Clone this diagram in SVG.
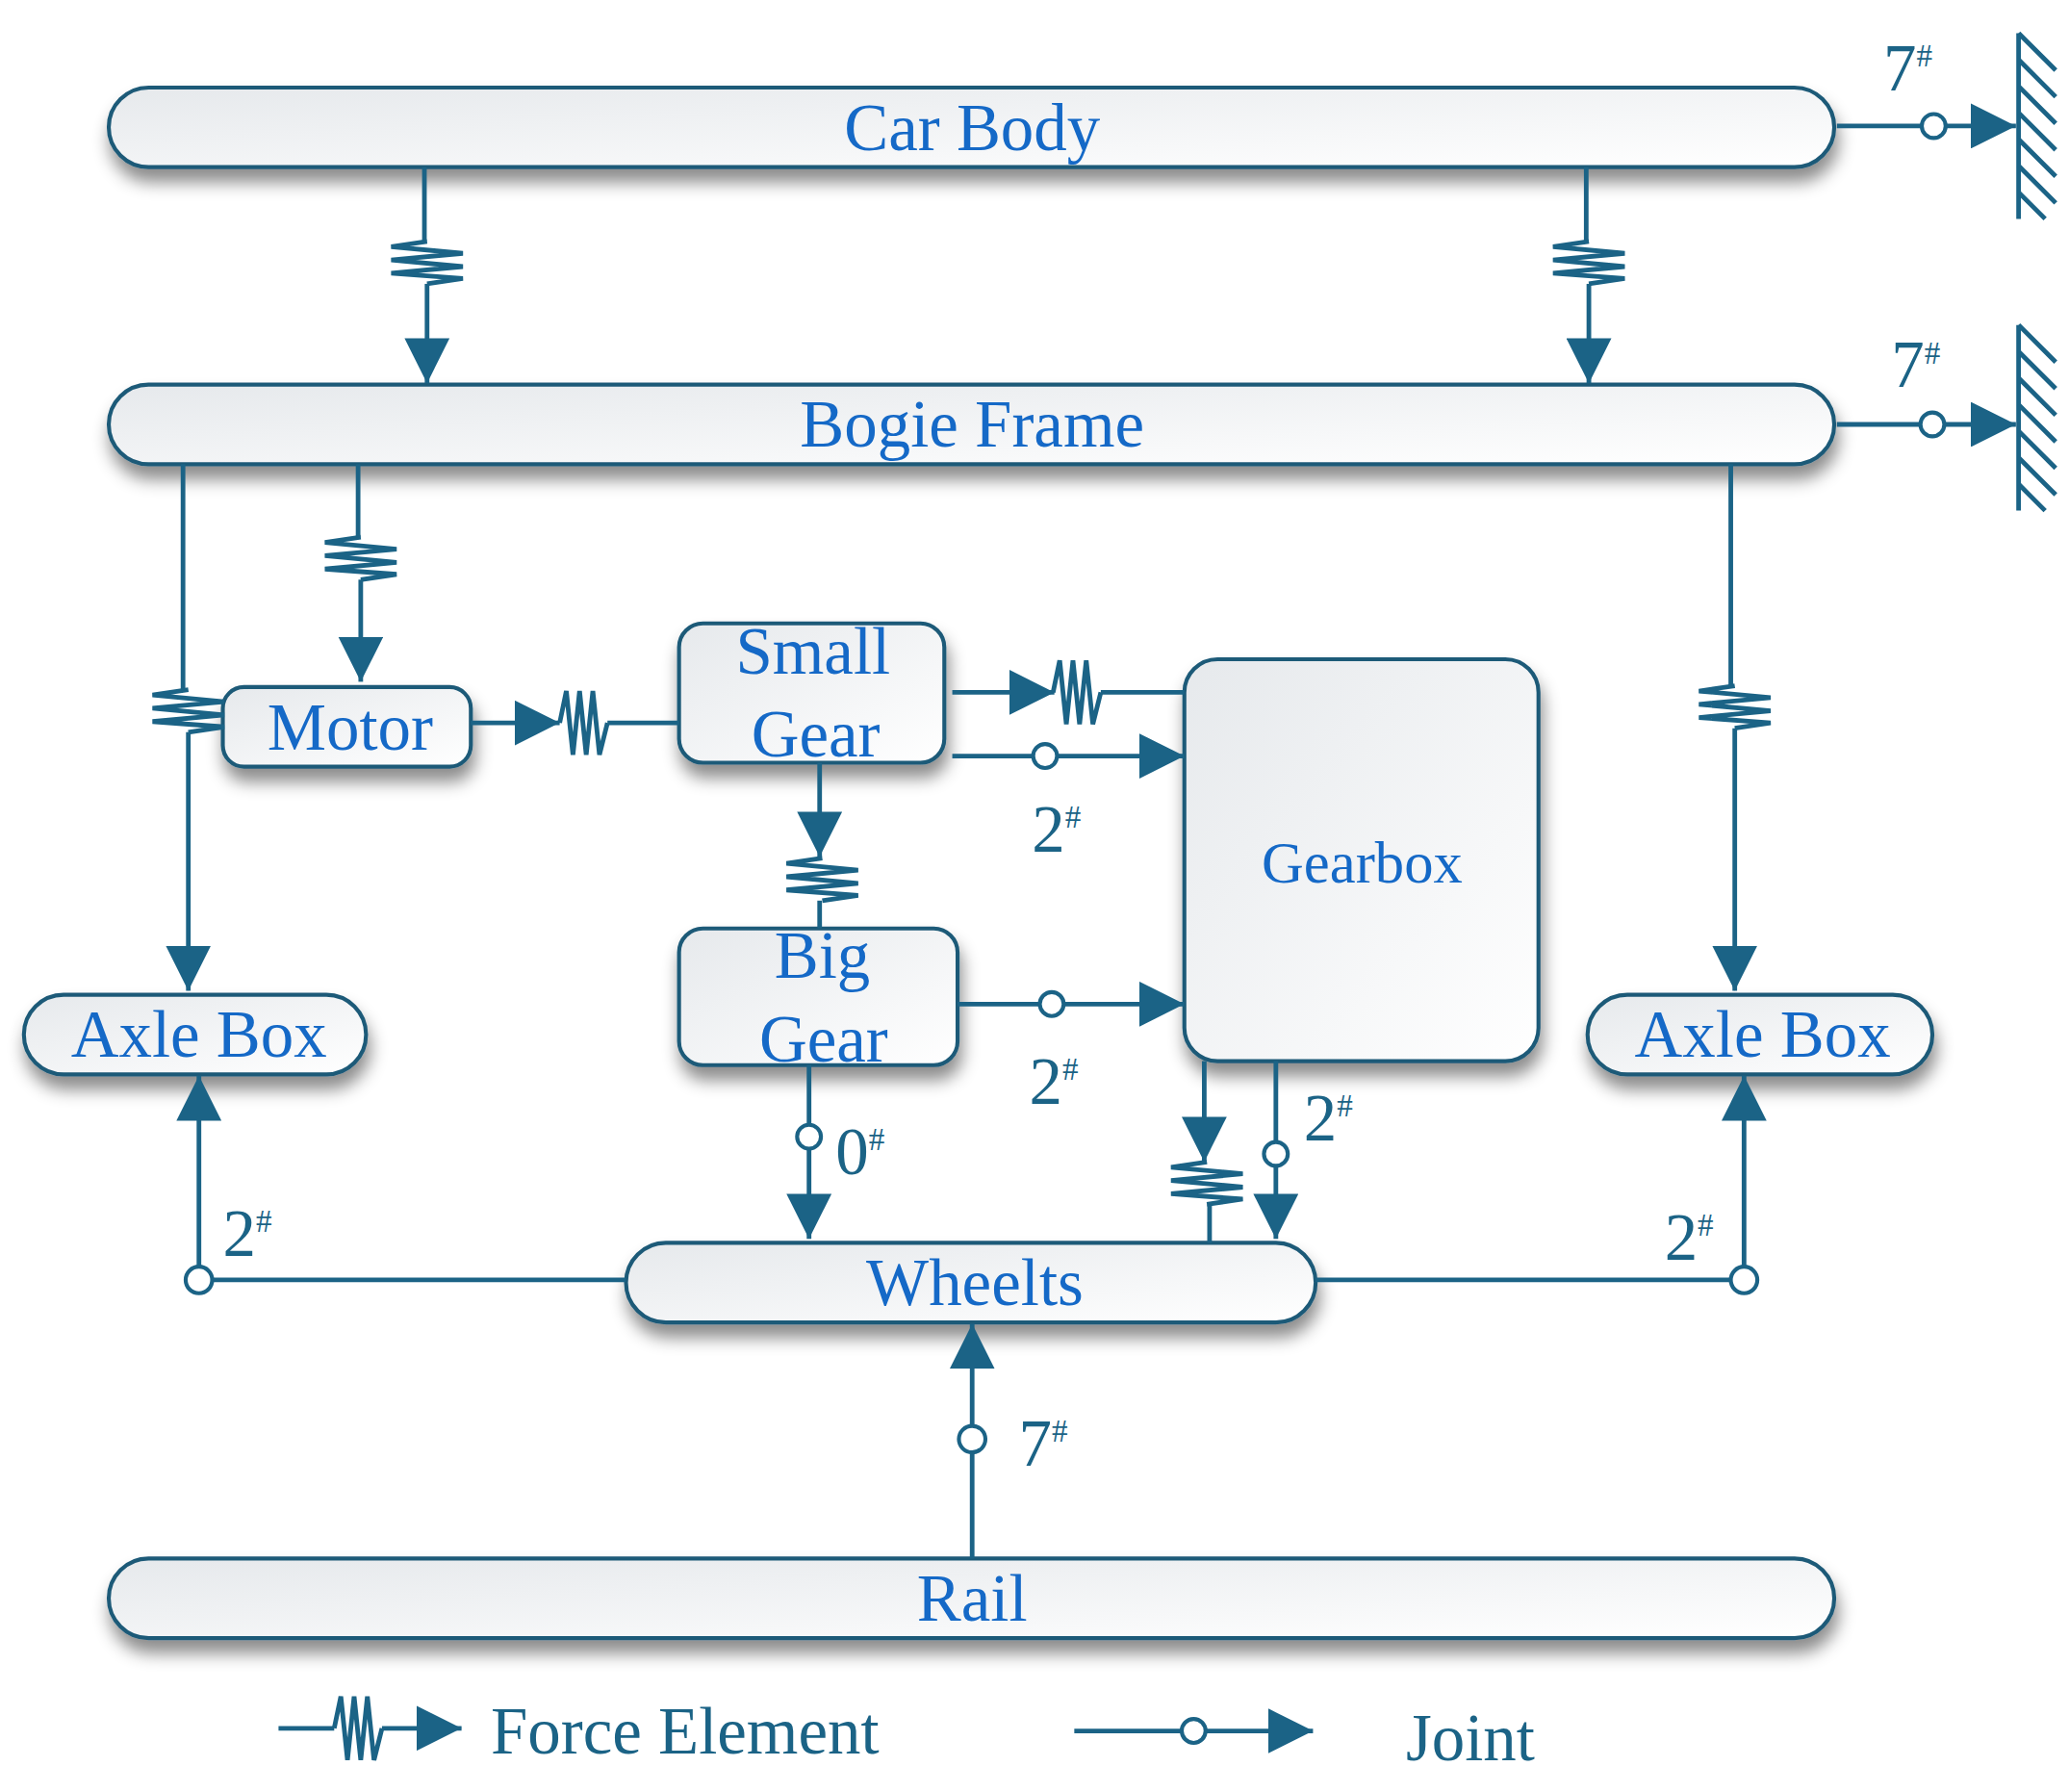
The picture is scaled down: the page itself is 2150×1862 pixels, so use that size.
<svg xmlns="http://www.w3.org/2000/svg" width="2150" height="1862" viewBox="0 0 2150 1862">
<defs>
<linearGradient id="g" x1="0" y1="0" x2="1" y2="1"><stop offset="0" stop-color="#e6e9ec"/><stop offset="1" stop-color="#ffffff"/></linearGradient>
<filter id="sh" x="-10%" y="-30%" width="120%" height="180%"><feDropShadow dx="2" dy="10" stdDeviation="6" flood-color="#000" flood-opacity="0.45"/></filter>
<marker id="ar" viewBox="0 0 10 10" refX="10" refY="5" markerWidth="34" markerHeight="34" markerUnits="userSpaceOnUse" orient="auto"><path d="M0,0 L10,5 L0,10 z" fill="#1b6386"/></marker>
<path id="sv" d="M0,-16 L-27,-12 L27,-7 L-27,-2 L27,3 L-27,8 L27,12 L0,16"/>
<path id="sh2" d="M-18,0 L-13,-24 L-8,24 L-3,-24 L2,24 L7,-24 L12,24 L18,0"/>
</defs>
<style>
.n rect{fill:url(#g);stroke:#1f5a78;stroke-width:3;filter:url(#sh)}
.n text{font-family:"Liberation Serif",serif;fill:#1569c7;text-anchor:middle}
.c path,.c line,.c use{fill:none;stroke:#1b6386;stroke-width:3.5}
.c circle{fill:#fff;stroke:#1b6386;stroke-width:3}
.a{marker-end:url(#ar)}
.l{font-family:"Liberation Serif",serif;fill:#1b6386;font-size:50px}
.l tspan{font-size:24px}
</style>
<g transform="scale(1.3782)">
<g id="carbody" class="n"><rect x="82" y="66" width="1301" height="60" rx="30"/><text x="733" y="113" font-size="50">Car Body</text></g>
<g id="bogie" class="n"><rect x="82" y="290" width="1301" height="60" rx="30"/><text x="733" y="337" font-size="50">Bogie Frame</text></g>
<g id="motor" class="n"><rect x="168" y="518" width="187" height="60" rx="16"/><text x="264" y="565" font-size="50">Motor</text></g>
<g id="smallgear" class="n"><rect x="512" y="470" width="200" height="105" rx="18"/><text x="613" y="508" font-size="50">Small</text><text x="615" y="570" font-size="50">Gear</text></g>
<g id="biggear" class="n"><rect x="512" y="700" width="210" height="103" rx="18"/><text x="620" y="737" font-size="50">Big</text><text x="621" y="800" font-size="50">Gear</text></g>
<g id="gearbox" class="n"><rect x="893" y="497" width="267" height="303" rx="25"/><text x="1027" y="665" font-size="44">Gearbox</text></g>
<g id="axleL" class="n"><rect x="18" y="750" width="258" height="60" rx="30"/><text x="150" y="797" font-size="50">Axle Box</text></g>
<g id="axleR" class="n"><rect x="1197" y="750" width="260" height="60" rx="30"/><text x="1329" y="797" font-size="50">Axle Box</text></g>
<g id="wheels" class="n"><rect x="472" y="937" width="520" height="60" rx="30"/><text x="735" y="984" font-size="50">Wheelts</text></g>
<g id="rail" class="n"><rect x="82" y="1175" width="1301" height="60" rx="30"/><text x="733" y="1222" font-size="50">Rail</text></g>
<g id="connectors" class="c">
<line x1="1385" y1="95" x2="1520" y2="95" class="a"/><circle cx="1458" cy="95" r="9"/>
<line x1="1522" y1="25" x2="1522" y2="165"/>
<path d="M1522,25 l28,28 M1522,45 l28,28 M1522,65 l28,28 M1522,85 l28,28 M1522,105 l28,28 M1522,125 l28,28 M1522,145 l20,20"/>
<line x1="1385" y1="320" x2="1520" y2="320" class="a"/><circle cx="1457" cy="320" r="9"/>
<line x1="1522" y1="245" x2="1522" y2="385"/>
<path d="M1522,245 l28,28 M1522,265 l28,28 M1522,285 l28,28 M1522,305 l28,28 M1522,325 l28,28 M1522,345 l28,28 M1522,365 l20,20"/>
<path d="M320,126 V182"/><use href="#sv" x="322" y="198"/><path class="a" d="M322,214 V289"/>
<path d="M1196,126 V182"/><use href="#sv" x="1198" y="198"/><path class="a" d="M1198,214 V289"/>
<path d="M270,350 V405"/><use href="#sv" x="272" y="421"/><path class="a" d="M272,437 V514"/>
<path d="M138,350 V520"/><use href="#sv" x="142" y="536"/><path class="a" d="M142,552 V747"/>
<path d="M1305,350 V517"/><use href="#sv" x="1308" y="533"/><path class="a" d="M1308,549 V747"/>
<path class="a" d="M355,545 H422"/><use href="#sh2" x="440" y="545"/><path d="M458,545 H512"/>
<path class="a" d="M718,522 H795"/><use href="#sh2" x="812" y="522"/><path d="M830,522 H893"/>
<path class="a" d="M718,570 H893"/><circle cx="788" cy="570" r="9"/>
<path class="a" d="M618,575 V646"/><use href="#sv" x="620" y="663"/><path d="M618,679 V700"/>
<path class="a" d="M722,757 H893"/><circle cx="793" cy="757" r="9"/>
<path class="a" d="M610,803 V934"/><circle cx="610" cy="857" r="9"/>
<path class="a" d="M908,800 V876"/><use href="#sv" x="910" y="892"/><path d="M912,908 V937"/>
<path class="a" d="M962,800 V934"/><circle cx="962" cy="870" r="9"/>
<path class="a" d="M472,965 H150 V811"/><circle cx="150" cy="965" r="10"/>
<path class="a" d="M992,965 H1315 V811"/><circle cx="1315" cy="965" r="10"/>
<path class="a" d="M733,1175 V998"/><circle cx="733" cy="1085" r="10"/>
<path d="M210,1303 H252"/><use href="#sh2" x="270" y="1303"/><path class="a" d="M288,1303 H348"/>
<path class="a" d="M810,1305 H990"/><circle cx="900" cy="1305" r="9"/>
</g>
<g id="labels">
<text class="l" x="1420" y="68">7<tspan dy="-18">#</tspan></text>
<text class="l" x="1426" y="292">7<tspan dy="-18">#</tspan></text>
<text class="l" x="778" y="642">2<tspan dy="-18">#</tspan></text>
<text class="l" x="776" y="832">2<tspan dy="-18">#</tspan></text>
<text class="l" x="983" y="860">2<tspan dy="-18">#</tspan></text>
<text class="l" x="630" y="885">0<tspan dy="-18">#</tspan></text>
<text class="l" x="168" y="947">2<tspan dy="-18">#</tspan></text>
<text class="l" x="1255" y="950">2<tspan dy="-18">#</tspan></text>
<text class="l" x="768" y="1105">7<tspan dy="-18">#</tspan></text>
<text class="l" x="370" y="1322">Force Element</text>
<text class="l" x="1060" y="1327">Joint</text>
</g>
</g>
</svg>
